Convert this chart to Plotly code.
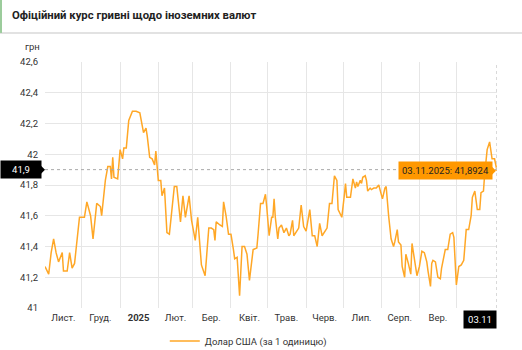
import plotly.graph_objects as go

dates = [
    "2024-11-01", "2024-11-04", "2024-11-06", "2024-11-08", "2024-11-10", "2024-11-12", "2024-11-15", "2024-11-16",
    "2024-11-19", "2024-11-21", "2024-11-23", "2024-11-25", "2024-11-29", "2024-12-03", "2024-12-05", "2024-12-08",
    "2024-12-10", "2024-12-13", "2024-12-16", "2024-12-17", "2024-12-20", "2024-12-22", "2024-12-24", "2024-12-25",
    "2024-12-26", "2024-12-27", "2024-12-30", "2025-01-01", "2025-01-03", "2025-01-04", "2025-01-06", "2025-01-08",
    "2025-01-11", "2025-01-14", "2025-01-17", "2025-01-19", "2025-01-20", "2025-01-22", "2025-01-23", "2025-01-25",
    "2025-01-27", "2025-01-29", "2025-01-30", "2025-02-01", "2025-02-03", "2025-02-04", "2025-02-06", "2025-02-08",
    "2025-02-10", "2025-02-14", "2025-02-16", "2025-02-19", "2025-02-21", "2025-02-23", "2025-02-26", "2025-02-28",
    "2025-03-03", "2025-03-05", "2025-03-08", "2025-03-11", "2025-03-14", "2025-03-16", "2025-03-18", "2025-03-19",
    "2025-03-20", "2025-03-23", "2025-03-25", "2025-03-26", "2025-03-28", "2025-03-30", "2025-04-01", "2025-04-03",
    "2025-04-04", "2025-04-06", "2025-04-07", "2025-04-08", "2025-04-10", "2025-04-12", "2025-04-14", "2025-04-16",
    "2025-04-19", "2025-04-22", "2025-04-23", "2025-04-25", "2025-04-27", "2025-04-29", "2025-04-30", "2025-05-02",
    "2025-05-04", "2025-05-05", "2025-05-06", "2025-05-07", "2025-05-09", "2025-05-10", "2025-05-12", "2025-05-14",
    "2025-05-16", "2025-05-18", "2025-05-19", "2025-05-21", "2025-05-22", "2025-05-24", "2025-05-26", "2025-05-28",
    "2025-05-30", "2025-06-01", "2025-06-04", "2025-06-06", "2025-06-08", "2025-06-10", "2025-06-12", "2025-06-14",
    "2025-06-16", "2025-06-18", "2025-06-20", "2025-06-22", "2025-06-24", "2025-06-26", "2025-06-27", "2025-06-30",
    "2025-07-02", "2025-07-03", "2025-07-04", "2025-07-07", "2025-07-09", "2025-07-11", "2025-07-12", "2025-07-13",
    "2025-07-15", "2025-07-16", "2025-07-17", "2025-07-19", "2025-07-20", "2025-07-21", "2025-07-23", "2025-07-24",
    "2025-07-26", "2025-07-28", "2025-07-30", "2025-07-31", "2025-08-02", "2025-08-04", "2025-08-05", "2025-08-07",
    "2025-08-09", "2025-08-11", "2025-08-12", "2025-08-14", "2025-08-15", "2025-08-17", "2025-08-18", "2025-08-20",
    "2025-08-21", "2025-08-23", "2025-08-25", "2025-08-26", "2025-08-28", "2025-08-30", "2025-09-01", "2025-09-03",
    "2025-09-05", "2025-09-07", "2025-09-08", "2025-09-10", "2025-09-11", "2025-09-12", "2025-09-14", "2025-09-15",
    "2025-09-16", "2025-09-18", "2025-09-19", "2025-09-22", "2025-09-24", "2025-09-26", "2025-09-28", "2025-09-29",
    "2025-09-30", "2025-10-01", "2025-10-03", "2025-10-05", "2025-10-07", "2025-10-09", "2025-10-11", "2025-10-13",
    "2025-10-14", "2025-10-16", "2025-10-18", "2025-10-20", "2025-10-21", "2025-10-23", "2025-10-24", "2025-10-26",
    "2025-10-28", "2025-10-29", "2025-10-30", "2025-11-01", "2025-11-03",
]

usd_rate = [
    41.27, 41.22, 41.36, 41.45, 41.36, 41.30, 41.36, 41.24,
    41.24, 41.36, 41.26, 41.29, 41.59, 41.59, 41.69, 41.60,
    41.45, 41.68, 41.66, 41.60, 41.83, 41.92, 41.92, 41.84,
    41.98, 41.85, 41.84, 42.03, 41.97, 42.04, 42.04, 42.22,
    42.28, 42.28, 42.27, 42.18, 42.14, 42.17, 42.12, 41.98,
    41.97, 41.93, 42.02, 41.83, 41.83, 41.73, 41.78, 41.49,
    41.48, 41.79, 41.79, 41.56, 41.73, 41.59, 41.73, 41.57,
    41.44, 41.59, 41.28, 41.21, 41.52, 41.52, 41.51, 41.44,
    41.56, 41.54, 41.53, 41.69, 41.60, 41.48, 41.48, 41.38,
    41.32, 41.33, 41.20, 41.08, 41.40, 41.40, 41.35, 41.18,
    41.38, 41.39, 41.48, 41.68, 41.68, 41.74, 41.66, 41.47,
    41.59, 41.59, 41.71, 41.59, 41.45, 41.52, 41.54, 41.49,
    41.52, 41.47, 41.48, 41.57, 41.47, 41.50, 41.52, 41.67,
    41.53, 41.50, 41.64, 41.47, 41.47, 41.40, 41.55, 41.47,
    41.50, 41.52, 41.68, 41.68, 41.86, 41.83, 41.64, 41.59,
    41.73, 41.81, 41.72, 41.72, 41.84, 41.78, 41.82, 41.79,
    41.83, 41.81, 41.85, 41.86, 41.83, 41.76, 41.78, 41.77,
    41.78, 41.78, 41.80, 41.77, 41.71, 41.78, 41.79, 41.60,
    41.45, 41.40, 41.43, 41.51, 41.43, 41.41, 41.27, 41.20,
    41.35, 41.29, 41.22, 41.42, 41.32, 41.21, 41.27, 41.37,
    41.36, 41.30, 41.24, 41.14, 41.29, 41.31, 41.30, 41.26,
    41.20, 41.19, 41.26, 41.38, 41.38, 41.48, 41.49, 41.46,
    41.27, 41.15, 41.27, 41.28, 41.31, 41.51, 41.51, 41.60,
    41.72, 41.76, 41.64, 41.64, 41.75, 41.76, 41.87, 42.03,
    42.08, 42.03, 41.97, 41.97, 41.8924,
]

month_starts = [
    "2024-11-01", "2024-12-01", "2025-01-01", "2025-02-01", "2025-03-01", "2025-04-01",
    "2025-05-01", "2025-06-01", "2025-07-01", "2025-08-01", "2025-09-01", "2025-10-01",
]
month_mids = [
    "2024-11-16", "2024-12-16", "2025-01-16", "2025-02-15", "2025-03-16", "2025-04-16",
    "2025-05-16", "2025-06-16", "2025-07-16", "2025-08-16", "2025-09-16",
]
month_labels = ["Лист.", "Груд.", "<b>2025</b>", "Лют.", "Бер.", "Квіт.", "Трав.",
                "Черв.", "Лип.", "Серп.", "Вер."]

y_ticks = [41, 41.2, 41.4, 41.6, 41.8, 42, 42.2, 42.4, 42.6]
y_labels = ["41", "41,2", "41,4", "41,6", "41,8", "42", "42,2", "42,4", "42,6"]

series_name = "Долар США (за 1 одиницю)"
title = "Офіційний курс гривні щодо іноземних валют"
unit_label = "грн"
cross_y = 41.9
cross_y_label = "41,9"
last_label = "03.11"
tooltip_text = "03.11.2025: 41,8924"

LINE = "#FFA726"
FONT = "Roboto, Arial, sans-serif"
FS = 9.5

fig = go.Figure()
fig.add_trace(go.Scatter(
    x=dates, y=usd_rate, mode="lines", name=series_name,
    line=dict(color=LINE, width=1.5), hoverinfo="skip",
))

fig.update_layout(
    width=522, height=350,
    margin=dict(l=45, r=25, t=62, b=42, autoexpand=False),
    paper_bgcolor="white", plot_bgcolor="white",
    font=dict(family=FONT, size=FS, color="#333333"),
    showlegend=True,
    legend=dict(orientation="h", x=0.265, xanchor="left",
                yref="container", y=0.026, yanchor="middle",
                font=dict(size=FS, color="#333333"), bgcolor="rgba(0,0,0,0)"),
    xaxis=dict(
        type="date", range=[dates[0], dates[-1]],
        tickmode="array", tickvals=month_mids, ticktext=month_labels,
        showgrid=False, ticks="", zeroline=False, showline=False,
        tickfont=dict(size=FS, color="#333333"), ticklabelstandoff=2,
        minor=dict(tickmode="array", tickvals=month_starts, showgrid=True,
                   gridcolor="#e6e6e6", gridwidth=1, ticks=""),
    ),
    yaxis=dict(
        range=[41, 42.6], tickmode="array", tickvals=y_ticks, ticktext=y_labels,
        showgrid=True, gridcolor="#e6e6e6", gridwidth=1, zeroline=False,
        showline=False, ticks="", ticklabelstandoff=6,
        tickfont=dict(size=FS, color="#333333"),
    ),
)

shapes = [
    # header separator and accent
    dict(type="line", xref="paper", yref="paper", x0=-0.1, x1=1.06, y0=1.118, y1=1.118,
         line=dict(color="#e2e2e2", width=2)),
    dict(type="line", xref="paper", yref="paper", x0=-0.0973, x1=-0.0973, y0=1.118, y1=1.26,
         line=dict(color="#9ccc9c", width=2)),
    # crosshair
    dict(type="line", xref="paper", yref="y", x0=0, x1=1, y0=cross_y, y1=cross_y,
         line=dict(color="#aaaaaa", width=1, dash="dot")),
    dict(type="line", xref="x", yref="paper", x0=dates[-1], x1=dates[-1], y0=0, y1=1,
         line=dict(color="#cccccc", width=1.5, dash="dot")),
    # pointer of y crosshair label
    dict(type="path", xref="paper", yref="y", xsizemode="pixel", ysizemode="pixel",
         xanchor=0, yanchor=cross_y, path="M -4,-4 L 0,0 L -4,4 Z",
         fillcolor="black", line=dict(width=0)),
    # pointer of tooltip
    dict(type="path", xref="x", yref="y", xsizemode="pixel", ysizemode="pixel",
         xanchor=dates[-1], yanchor=usd_rate[-1], path="M -5,-4 L -1,0 L -5,4 Z",
         fillcolor="#FF9800", line=dict(width=0)),
]
fig.update_layout(shapes=shapes)

annotations = [
    dict(text=f"<b>{title}</b>", xref="paper", yref="paper", x=-0.077, y=1.19,
         xanchor="left", yanchor="middle", showarrow=False,
         font=dict(size=11.3, color="#222222")),
    dict(text=unit_label, xref="paper", yref="paper", x=-0.049, y=1.062,
         xanchor="left", yanchor="middle", showarrow=False,
         font=dict(size=FS, color="#333333")),
    dict(text=cross_y_label, xref="paper", yref="y", x=0, y=cross_y,
         xanchor="right", yanchor="middle", xshift=-3, showarrow=False,
         bgcolor="black", font=dict(size=FS, color="white"), borderpad=3, width=34),
    dict(text=last_label, xref="x", yref="paper", x=dates[-1], y=0,
         xanchor="right", yanchor="top", yshift=-2, showarrow=False,
         bgcolor="black", font=dict(size=FS, color="white"), borderpad=3, width=26),
    dict(text=tooltip_text, xref="x", yref="y", x=dates[-1], y=usd_rate[-1],
         xanchor="right", yanchor="middle", xshift=-4, showarrow=False,
         bgcolor="#FF9800", font=dict(size=FS, color="#222222"), borderpad=3),
]
fig.update_layout(annotations=annotations)

fig.write_html("out.html")
